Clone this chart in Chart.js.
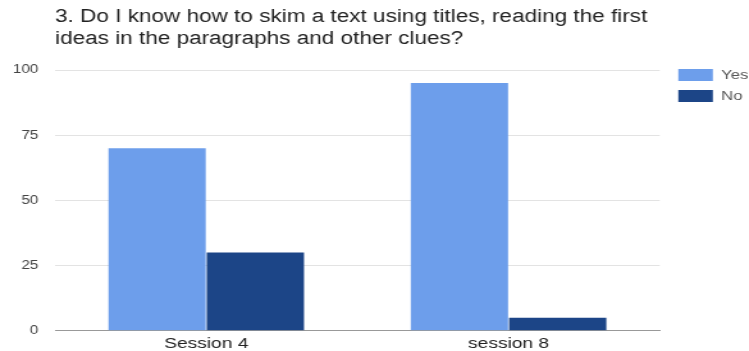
<!DOCTYPE html>
<html>
<head>
<meta charset="utf-8">
<script src="https://cdn.jsdelivr.net/npm/chart.js@4"></script>
<style>
  html, body { margin: 0; padding: 0; background: #fff; overflow: hidden; width: 749px; height: 351px; }
  /* the reference is stretched sideways, so the chart is drawn narrow and widened */
  #wrap { width: 588px; height: 351px; transform: scaleX(1.2803); transform-origin: 0 0; }
</style>
</head>
<body>
<div id="wrap"><canvas id="chart"></canvas></div>
<script>
const titleLines = ['3. Do I know how to skim a text using titles, reading the first', 'ideas in the paragraphs and other clues?'];
const sessions = ['Session 4', 'session 8'];
const yesValues = [70, 95];
const noValues = [30, 5];
const yTicks = [0, 25, 50, 75, 100];

const font = 'Liberation Sans, Arial, sans-serif';

// nudge the legend a bit right of the plot, like the original
const legendShift = {
    id: 'legendShift',
    afterLayout(chart) {
        if (chart.legend) chart.legend.left += 6.5;
    }
};

const ctx = document.getElementById('chart').getContext('2d');
new Chart(ctx, {
    type: 'bar',
    data: {
        labels: sessions,
        datasets: [{
            label: 'Yes',
            data: yesValues,
            backgroundColor: '#6d9eeb',
            borderWidth: 0
        }, {
            label: 'No',
            data: noValues,
            backgroundColor: '#1c4587',
            borderWidth: 0
        }]
    },
    options: {
        responsive: true,
        maintainAspectRatio: false,
        animation: false,
        categoryPercentage: 0.65,
        barPercentage: 0.99,
        layout: { padding: 0 },
        plugins: {
            title: {
                display: true,
                text: titleLines,
                align: 'start',
                fullSize: false,
                color: '#222',
                font: { family: font, size: 17.6, weight: 'normal', lineHeight: 1.25 },
                padding: { top: 6, bottom: 20 }
            },
            legend: {
                position: 'right',
                align: 'start',
                title: { display: true, text: ' ', padding: 22.5, font: { size: 13 } },
                labels: {
                    boxWidth: 27,
                    boxHeight: 12,
                    color: '#555',
                    padding: 8,
                    font: { family: font, size: 13 }
                }
            },
            tooltip: { enabled: false }
        },
        scales: {
            x: {
                afterFit: axis => { axis.height = 20; },
                grid: { display: false, drawTicks: false },
                border: { color: '#999', width: 1 },
                ticks: { color: '#222', padding: 6, font: { family: font, size: 15, lineHeight: 1.0 } }
            },
            y: {
                min: 0,
                max: 100,
                afterBuildTicks: axis => { axis.ticks = yTicks.map(v => ({ value: v })); },
                afterFit: axis => { axis.width = 43; },
                grid: { color: '#e3e3e3', drawTicks: false },
                border: { display: false },
                ticks: { color: '#444', padding: 13, font: { family: font, size: 12 } }
            }
        }
    },
    plugins: [legendShift]
});
</script>
</body>
</html>
